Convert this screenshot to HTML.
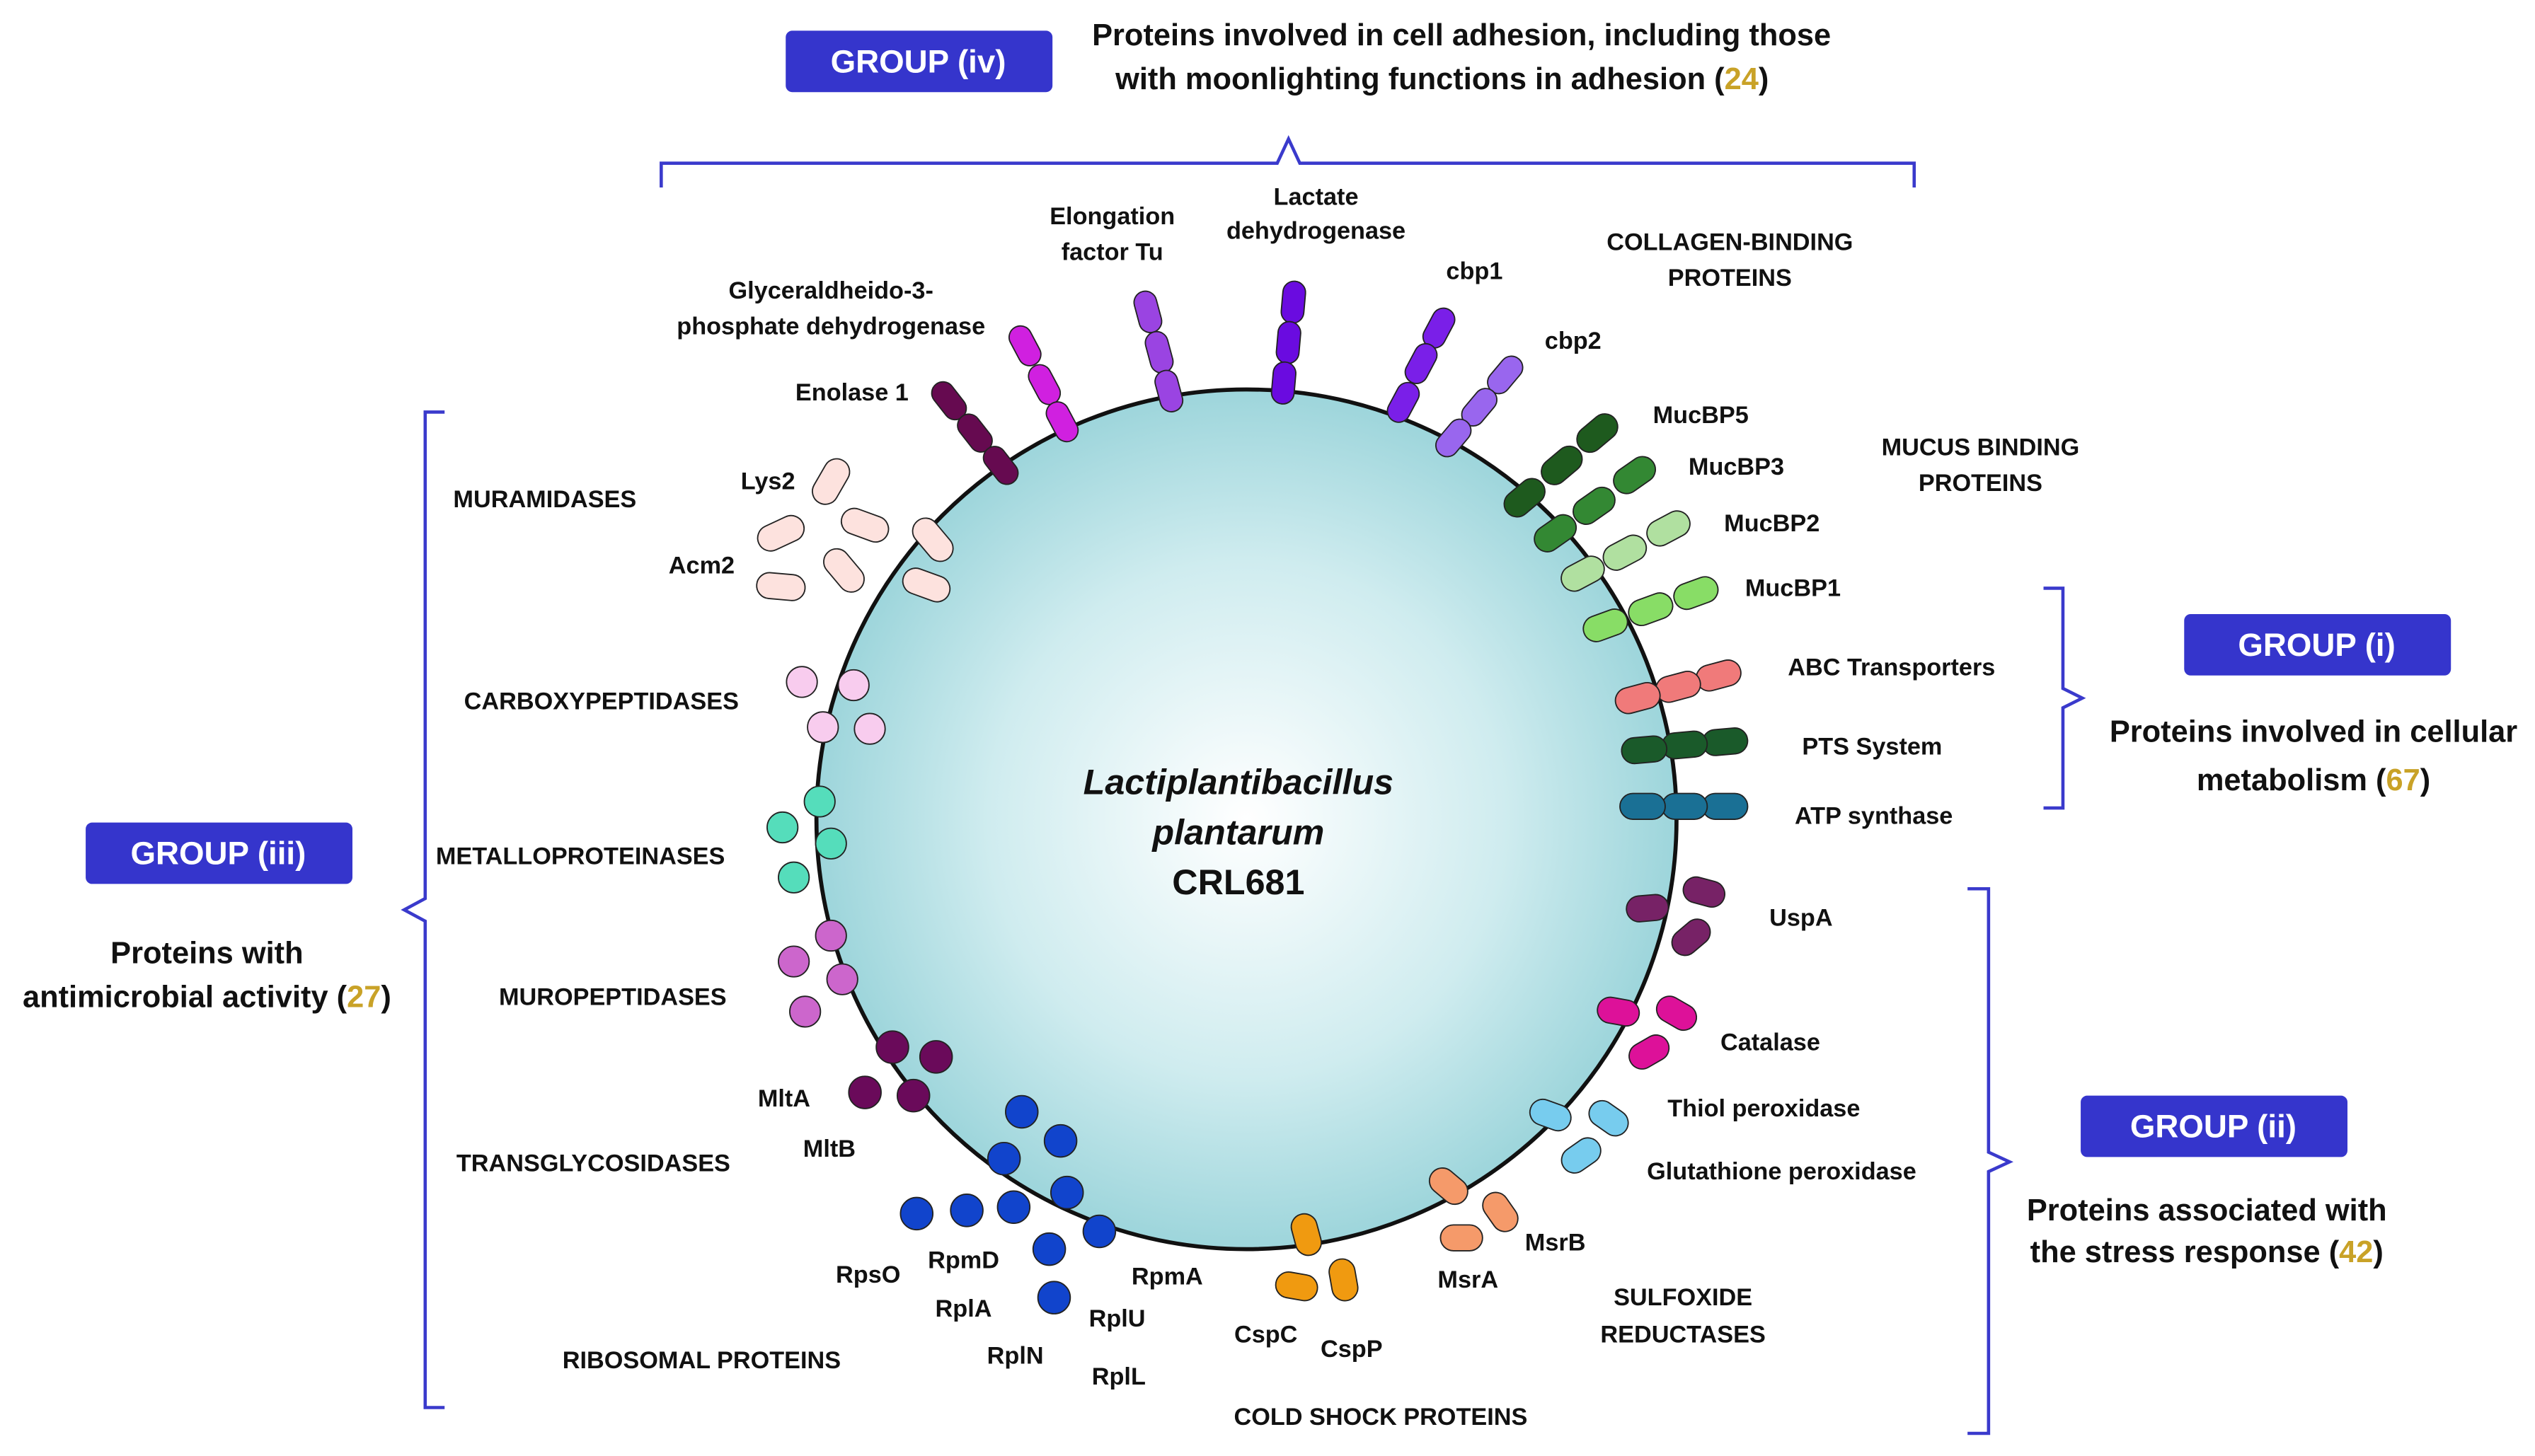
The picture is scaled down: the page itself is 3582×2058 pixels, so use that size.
<!DOCTYPE html>
<html><head><meta charset="utf-8"><style>
html,body{margin:0;padding:0;background:#fff;}
svg{display:block;}
text{font-family:"Liberation Sans",sans-serif;font-weight:bold;dominant-baseline:central;text-anchor:middle;}
</style></head><body>
<svg width="3582" height="2058" viewBox="0 0 1568 901" preserveAspectRatio="none" xmlns="http://www.w3.org/2000/svg">
<defs>
<radialGradient id="g" cx="0.5" cy="0.5" r="0.5">
<stop offset="0" stop-color="#ffffff"/><stop offset="0.6" stop-color="#cfecef"/><stop offset="1" stop-color="#9dd5db"/>
</radialGradient>
</defs>
<rect width="1568" height="901" fill="#fff"/>
<!-- braces -->
<g fill="none" stroke="#3a3acc" stroke-width="2">
<path d="M409 116 V101 H790 L797 86 L804 101 H1184 V116"/>
<path d="M275 255 H263 V556 L250 563 L263 570 V871 H275"/>
<path d="M1264 364 H1276 V426 L1288 432 L1276 438 V500 H1264"/>
<path d="M1217 550 H1230 V713 L1243 719 L1230 725 V887 H1217"/>
</g>
<!-- group boxes -->
<g fill="#3535cc">
<rect x="486" y="19" width="165" height="38" rx="4"/>
<rect x="1351" y="380" width="165" height="38" rx="4"/>
<rect x="1287" y="678" width="165" height="38" rx="4"/>
<rect x="53" y="509" width="165" height="38" rx="4"/>
</g>
<g fill="#fff" font-size="20">
<text x="568" y="38">GROUP (iv)</text>
<text x="1433" y="399">GROUP (i)</text>
<text x="1369" y="697">GROUP (ii)</text>
<text x="135" y="528">GROUP (iii)</text>
</g>
<g font-size="19" fill="#111">
<text x="904" y="22">Proteins involved in cell adhesion, including those</text>
<text x="892" y="49">with moonlighting functions in adhesion (<tspan fill="#c9a227">24</tspan>)</text>
<text x="1431" y="453">Proteins involved in cellular</text>
<text x="1431" y="483">metabolism (<tspan fill="#c9a227">67</tspan>)</text>
<text x="1365" y="749">Proteins associated with</text>
<text x="1365" y="775">the stress response (<tspan fill="#c9a227">42</tspan>)</text>
<text x="128" y="590">Proteins with</text>
<text x="128" y="617">antimicrobial activity (<tspan fill="#c9a227">27</tspan>)</text>
</g>
<!-- cell -->
<circle cx="771" cy="507" r="266" fill="url(#g)" stroke="#111" stroke-width="2.5"/>
<g font-size="22" fill="#111">
<text x="766" y="484" font-style="italic">Lactiplantibacillus</text>
<text x="766" y="515" font-style="italic">plantarum</text>
<text x="766" y="546">CRL681</text>
</g>
<!-- capsules -->
<g stroke="#222" stroke-width="0.8">
<g fill="#6a0be0">
<rect x="-13" y="-7" width="26" height="14" rx="7" transform="translate(800,187) rotate(95)"/>
<rect x="-13" y="-7" width="26" height="14" rx="7" transform="translate(797,212) rotate(95)"/>
<rect x="-13" y="-7" width="26" height="14" rx="7" transform="translate(794,237) rotate(95)"/>
</g>
<g fill="#9a44e2">
<rect x="-13" y="-7" width="26" height="14" rx="7" transform="translate(710,193) rotate(75)"/>
<rect x="-13" y="-7" width="26" height="14" rx="7" transform="translate(717,218) rotate(75)"/>
<rect x="-13" y="-7" width="26" height="14" rx="7" transform="translate(723,242) rotate(75)"/>
</g>
<g fill="#d020e0">
<rect x="-13" y="-7" width="26" height="14" rx="7" transform="translate(634,214) rotate(62)"/>
<rect x="-13" y="-7" width="26" height="14" rx="7" transform="translate(646,238) rotate(62)"/>
<rect x="-13" y="-7" width="26" height="14" rx="7" transform="translate(657,261) rotate(62)"/>
</g>
<g fill="#660a50">
<rect x="-13" y="-7" width="26" height="14" rx="7" transform="translate(587,248) rotate(52)"/>
<rect x="-13" y="-7" width="26" height="14" rx="7" transform="translate(603,268) rotate(52)"/>
<rect x="-13" y="-7" width="26" height="14" rx="7" transform="translate(619,288) rotate(52)"/>
</g>
<g fill="#7a1fe8">
<rect x="-13" y="-7" width="26" height="14" rx="7" transform="translate(890,203) rotate(118)"/>
<rect x="-13" y="-7" width="26" height="14" rx="7" transform="translate(879,225) rotate(118)"/>
<rect x="-13" y="-7" width="26" height="14" rx="7" transform="translate(868,249) rotate(118)"/>
</g>
<g fill="#9966ee">
<rect x="-13" y="-7" width="26" height="14" rx="7" transform="translate(931,232) rotate(130)"/>
<rect x="-13" y="-7" width="26" height="14" rx="7" transform="translate(915,252) rotate(130)"/>
<rect x="-13" y="-7" width="26" height="14" rx="7" transform="translate(899,271) rotate(130)"/>
</g>
<g fill="#1e5a1e">
<rect x="-14" y="-8" width="28" height="16" rx="8" transform="translate(988,268) rotate(140)"/>
<rect x="-14" y="-8" width="28" height="16" rx="8" transform="translate(966,288) rotate(140)"/>
<rect x="-14" y="-8" width="28" height="16" rx="8" transform="translate(943,308) rotate(140)"/>
</g>
<g fill="#338833">
<rect x="-14" y="-8" width="28" height="16" rx="8" transform="translate(1011,294) rotate(145)"/>
<rect x="-14" y="-8" width="28" height="16" rx="8" transform="translate(986,313) rotate(145)"/>
<rect x="-14" y="-8" width="28" height="16" rx="8" transform="translate(962,330) rotate(145)"/>
</g>
<g fill="#b0e0a0">
<rect x="-14" y="-8" width="28" height="16" rx="8" transform="translate(1032,327) rotate(152)"/>
<rect x="-14" y="-8" width="28" height="16" rx="8" transform="translate(1005,342) rotate(152)"/>
<rect x="-14" y="-8" width="28" height="16" rx="8" transform="translate(979,355) rotate(152)"/>
</g>
<g fill="#88dd66">
<rect x="-14" y="-8" width="28" height="16" rx="8" transform="translate(1049,367) rotate(160)"/>
<rect x="-14" y="-8" width="28" height="16" rx="8" transform="translate(1021,377) rotate(160)"/>
<rect x="-14" y="-8" width="28" height="16" rx="8" transform="translate(993,387) rotate(160)"/>
</g>
<g fill="#f07a7a">
<rect x="-14" y="-8" width="28" height="16" rx="8" transform="translate(1063,418) rotate(165)"/>
<rect x="-14" y="-8" width="28" height="16" rx="8" transform="translate(1038,425) rotate(165)"/>
<rect x="-14" y="-8" width="28" height="16" rx="8" transform="translate(1013,432) rotate(165)"/>
</g>
<g fill="#1a5a2a">
<rect x="-14" y="-8" width="28" height="16" rx="8" transform="translate(1067,459) rotate(175)"/>
<rect x="-14" y="-8" width="28" height="16" rx="8" transform="translate(1042,461) rotate(175)"/>
<rect x="-14" y="-8" width="28" height="16" rx="8" transform="translate(1017,464) rotate(175)"/>
</g>
<g fill="#1a7095">
<rect x="-14" y="-8" width="28" height="16" rx="8" transform="translate(1067,499)"/>
<rect x="-14" y="-8" width="28" height="16" rx="8" transform="translate(1042,499)"/>
<rect x="-14" y="-8" width="28" height="16" rx="8" transform="translate(1016,499)"/>
</g>
<g fill="#772266">
<rect x="-13" y="-8" width="26" height="16" rx="8" transform="translate(1054,552) rotate(15)"/>
<rect x="-13" y="-8" width="26" height="16" rx="8" transform="translate(1019,562) rotate(-5)"/>
<rect x="-13" y="-8" width="26" height="16" rx="8" transform="translate(1046,580) rotate(-40)"/>
</g>
<g fill="#dd1199">
<rect x="-13" y="-8" width="26" height="16" rx="8" transform="translate(1037,627) rotate(30)"/>
<rect x="-13" y="-8" width="26" height="16" rx="8" transform="translate(1001,626) rotate(10)"/>
<rect x="-13" y="-8" width="26" height="16" rx="8" transform="translate(1020,651) rotate(-30)"/>
</g>
<g fill="#77ccee">
<rect x="-13" y="-8" width="26" height="16" rx="8" transform="translate(959,690) rotate(20)"/>
<rect x="-13" y="-8" width="26" height="16" rx="8" transform="translate(995,692) rotate(35)"/>
<rect x="-13" y="-8" width="26" height="16" rx="8" transform="translate(978,715) rotate(-35)"/>
</g>
<g fill="#f59a6a">
<rect x="-13" y="-8" width="26" height="16" rx="8" transform="translate(896,734) rotate(40)"/>
<rect x="-13" y="-8" width="26" height="16" rx="8" transform="translate(928,750) rotate(55)"/>
<rect x="-13" y="-8" width="26" height="16" rx="8" transform="translate(904,766) rotate(0)"/>
</g>
<g fill="#f09a10">
<rect x="-13" y="-8" width="26" height="16" rx="8" transform="translate(808,764) rotate(75)"/>
<rect x="-13" y="-8" width="26" height="16" rx="8" transform="translate(802,796) rotate(10)"/>
<rect x="-13" y="-8" width="26" height="16" rx="8" transform="translate(831,792) rotate(80)"/>
</g>
<g fill="#fde2de">
<rect x="-15" y="-8" width="30" height="16" rx="8" transform="translate(514,298) rotate(-60)"/>
<rect x="-15" y="-8" width="30" height="16" rx="8" transform="translate(535,325) rotate(20)"/>
<rect x="-15" y="-8" width="30" height="16" rx="8" transform="translate(483,330) rotate(-25)"/>
<rect x="-15" y="-8" width="30" height="16" rx="8" transform="translate(522,353) rotate(50)"/>
<rect x="-15" y="-8" width="30" height="16" rx="8" transform="translate(577,334) rotate(50)"/>
<rect x="-15" y="-8" width="30" height="16" rx="8" transform="translate(483,363) rotate(5)"/>
<rect x="-15" y="-8" width="30" height="16" rx="8" transform="translate(573,362) rotate(20)"/>
</g>
<g fill="#f8ccee">
<circle cx="496" cy="422" r="9.5"/><circle cx="528" cy="424" r="9.5"/><circle cx="509" cy="450" r="9.5"/><circle cx="538" cy="451" r="9.5"/>
</g>
<g fill="#55ddbb">
<circle cx="507" cy="496" r="9.5"/><circle cx="484" cy="512" r="9.5"/><circle cx="514" cy="522" r="9.5"/><circle cx="491" cy="543" r="9.5"/>
</g>
<g fill="#cc66cc">
<circle cx="514" cy="579" r="9.5"/><circle cx="491" cy="595" r="9.5"/><circle cx="521" cy="606" r="9.5"/><circle cx="498" cy="626" r="9.5"/>
</g>
<g fill="#6a0a5a">
<circle cx="552" cy="648" r="10"/><circle cx="579" cy="654" r="10"/><circle cx="535" cy="676" r="10"/><circle cx="565" cy="678" r="10"/>
</g>
<g fill="#1144cc">
<circle cx="632" cy="688" r="10"/><circle cx="656" cy="706" r="10"/><circle cx="621" cy="717" r="10"/><circle cx="660" cy="738" r="10"/>
<circle cx="567" cy="751" r="10"/><circle cx="598" cy="749" r="10"/><circle cx="627" cy="747" r="10"/><circle cx="680" cy="762" r="10"/>
<circle cx="649" cy="773" r="10"/><circle cx="652" cy="803" r="10"/>
</g>
</g>
<!-- labels -->
<g font-size="15" fill="#111">
<text x="514" y="180">Glyceraldheido-3-</text>
<text x="514" y="202">phosphate dehydrogenase</text>
<text x="688" y="134">Elongation</text>
<text x="688" y="156">factor Tu</text>
<text x="814" y="122">Lactate</text>
<text x="814" y="143">dehydrogenase</text>
<text x="912" y="168">cbp1</text>
<text x="973" y="211">cbp2</text>
<text x="1070" y="150">COLLAGEN-BINDING</text>
<text x="1070" y="172">PROTEINS</text>
<text x="527" y="243">Enolase 1</text>
<text x="1052" y="257">MucBP5</text>
<text x="1074" y="289">MucBP3</text>
<text x="1096" y="324">MucBP2</text>
<text x="1109" y="364">MucBP1</text>
<text x="1225" y="277">MUCUS BINDING</text>
<text x="1225" y="299">PROTEINS</text>
<text x="1170" y="413">ABC Transporters</text>
<text x="1158" y="462">PTS System</text>
<text x="1159" y="505">ATP synthase</text>
<text x="1114" y="568">UspA</text>
<text x="1095" y="645">Catalase</text>
<text x="1091" y="686">Thiol peroxidase</text>
<text x="1102" y="725">Glutathione peroxidase</text>
<text x="962" y="769">MsrB</text>
<text x="908" y="792">MsrA</text>
<text x="1041" y="803">SULFOXIDE</text>
<text x="1041" y="826">REDUCTASES</text>
<text x="783" y="826">CspC</text>
<text x="836" y="835">CspP</text>
<text x="854" y="877">COLD SHOCK PROTEINS</text>
<text x="722" y="790">RpmA</text>
<text x="691" y="816">RplU</text>
<text x="692" y="852">RplL</text>
<text x="628" y="839">RplN</text>
<text x="596" y="810">RplA</text>
<text x="596" y="780">RpmD</text>
<text x="537" y="789">RpsO</text>
<text x="434" y="842">RIBOSOMAL PROTEINS</text>
<text x="485" y="680">MltA</text>
<text x="513" y="711">MltB</text>
<text x="367" y="720">TRANSGLYCOSIDASES</text>
<text x="379" y="617">MUROPEPTIDASES</text>
<text x="359" y="530">METALLOPROTEINASES</text>
<text x="372" y="434">CARBOXYPEPTIDASES</text>
<text x="337" y="309">MURAMIDASES</text>
<text x="475" y="298">Lys2</text>
<text x="434" y="350">Acm2</text>
</g>
</svg>
</body></html>
